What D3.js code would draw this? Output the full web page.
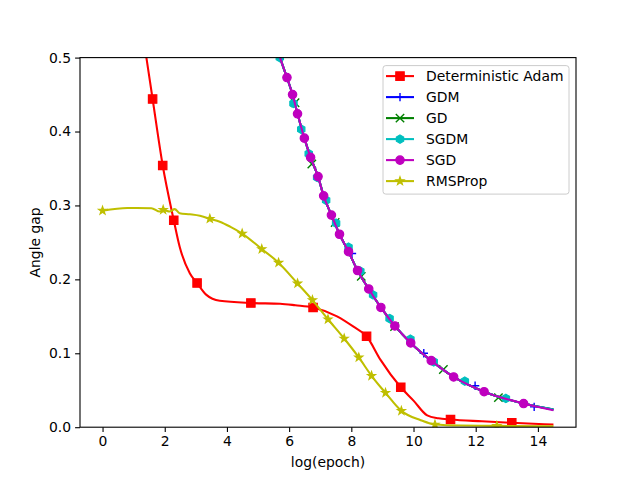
<!DOCTYPE html>
<html>
<head>
<meta charset="utf-8">
<script src="https://cdn.jsdelivr.net/npm/d3@7"></script>
<style>
  body { margin: 0; background: #fff; }
  svg { font-family: "DejaVu Sans", sans-serif; }
</style>
</head>
<body>
<div id="chart"></div>
<script>
// values: [log(epoch), angle gap]
var adamLine = [[1.30,0.530],[1.41,0.500],[1.61,0.444],[1.935,0.354],[2.29,0.280],[2.48,0.244],[2.81,0.208],
  [3.04,0.195],[3.34,0.179],[3.77,0.171],[4.77,0.168],[5.71,0.167],[6.20,0.165],[6.77,0.162],[7.54,0.150],
  [8.07,0.136],[8.49,0.123],[8.94,0.091],[9.59,0.054],[10.0,0.036],[10.44,0.016],[10.8,0.012],[11.19,0.0104],
  [12.2,0.008],[13.16,0.006],[14.5,0.0036]];
var adamMarks = [[1.61,0.444],[1.935,0.354],[2.29,0.280],[3.04,0.195],[4.77,0.168],[6.77,0.162],
  [8.49,0.123],[9.59,0.054],[11.19,0.0104],[13.16,0.006]];

// GDM, GD, SGDM, SGD lie on top of each other
var gdmLine = [[5.60,0.516],[5.71,0.500],[5.93,0.473],[6.11,0.450],[6.27,0.424],[6.49,0.391],[6.69,0.365],
  [6.93,0.339],[7.11,0.313],[7.36,0.287],[7.62,0.261],[7.91,0.2375],[8.20,0.212],[8.56,0.187],[8.95,0.162],
  [9.40,0.137],[9.91,0.114],[10.57,0.090],[11.29,0.068],[12.27,0.048],[13.54,0.032],[14.5,0.024]];
var gdmMarks = [[8.02,0.235],[10.33,0.100],[11.98,0.056],[13.88,0.0275]];
var gdLine = gdmLine;
var gdMarks = [[6.19,0.439],[6.73,0.356],[7.48,0.277],[8.32,0.204],[9.39,0.136],[10.96,0.078],[12.73,0.040]];
var sgdmLine = gdmLine;
var sgdmMarks = [[5.70,0.500],[6.14,0.438],[6.39,0.403],[6.63,0.370],[6.90,0.338],[7.19,0.307],[7.51,0.276],
  [7.91,0.2435],[8.29,0.211],[8.70,0.179],[9.23,0.147],[9.90,0.119],[10.65,0.0885],[11.65,0.0623],[12.97,0.0389]];
var sgdLine = [[5.60,0.516],[5.71,0.500],[5.93,0.473],[6.11,0.450],[6.27,0.424],[6.49,0.391],[6.69,0.365],
  [6.93,0.339],[7.11,0.313],[7.36,0.287],[7.62,0.261],[7.91,0.2375],[8.20,0.212],[8.56,0.187],[8.95,0.162],
  [9.40,0.137],[9.91,0.114],[10.57,0.090],[11.29,0.068],[12.27,0.048],[13.54,0.032],[14.5,0.023]];
var sgdMarks = [[5.93,0.473],[6.11,0.450],[6.27,0.424],[6.49,0.391],[6.69,0.365],[6.93,0.339],[7.11,0.313],
  [7.36,0.287],[7.62,0.261],[7.91,0.2375],[8.20,0.212],[8.56,0.187],[8.95,0.162],[9.40,0.137],[9.91,0.114],
  [10.57,0.090],[11.29,0.068],[12.27,0.048],[13.54,0.032]];

var rmsLine = [[0,0.293],[0.8,0.2965],[1.57,0.2963],[1.84,0.2917],[1.95,0.294],[2.16,0.2917],[2.32,0.295],
  [2.48,0.2895],[2.81,0.288],[3.13,0.286],[3.45,0.282],[3.77,0.278],[4.10,0.2714],[4.49,0.262],[5.12,0.241],
  [5.66,0.2226],[6.27,0.1945],[6.75,0.172],[7.25,0.146],[7.77,0.120],[8.24,0.0944],[8.65,0.0696],[9.10,0.0465],
  [9.61,0.0221],[10.23,0.0095],[10.69,0.0036],[11.5,0.0022],[12.68,0.0018],[14.5,0.0012]];
var rmsMarks = [[0,0.293],[1.95,0.294],[3.45,0.282],[4.49,0.262],[5.12,0.241],[5.66,0.2226],[6.27,0.1945],
  [6.75,0.172],[7.25,0.146],[7.77,0.120],[8.24,0.0944],[8.65,0.0696],[9.10,0.0465],[9.61,0.0221],
  [10.69,0.0036],[12.68,0.0018]];

var seriesNames = ["Deterministic Adam","GDM","GD","SGDM","SGD","RMSProp"];
var xTicks = [0,2,4,6,8,10,12,14];
var yTicks = [0.0,0.1,0.2,0.3,0.4,0.5];

var series = [
  {name: seriesNames[0], line: adamLine, marks: adamMarks, color: "#ff0000", marker: "square"},
  {name: seriesNames[1], line: gdmLine, marks: gdmMarks, color: "#0000ff", marker: "plus"},
  {name: seriesNames[2], line: gdLine, marks: gdMarks, color: "#008000", marker: "x"},
  {name: seriesNames[3], line: sgdmLine, marks: sgdmMarks, color: "#00bfbf", marker: "hexagon"},
  {name: seriesNames[4], line: sgdLine, marks: sgdMarks, color: "#bf00bf", marker: "circle"},
  {name: seriesNames[5], line: rmsLine, marks: rmsMarks, color: "#bfbf00", marker: "star"}
];

var W = 640, H = 480;
var margin = {top: 57.6, right: 64, bottom: 52.8, left: 80},
    width = W - margin.left - margin.right,
    height = H - margin.top - margin.bottom;

var x = d3.scaleLinear().domain([-0.725, 15.225]).range([0, width]);
var y = d3.scaleLinear().domain([0, 0.5]).range([height, 0]);

var svg = d3.select("#chart").append("svg")
    .attr("width", W)
    .attr("height", H)
  .append("g")
    .attr("transform", "translate(" + margin.left + "," + margin.top + ")");

svg.append("defs").append("clipPath").attr("id", "clip")
  .append("rect").attr("width", width).attr("height", height);

var line = d3.line()
    .x(function(d) { return x(d[0]); })
    .y(function(d) { return y(d[1]); })
    .curve(d3.curveMonotoneX);

// marker shape, centred on 0,0
var ms = 4.2;
function markerPath(type) {
  var p = d3.path();
  if (type == "square") {
    p.rect(-ms, -ms, 2 * ms, 2 * ms);
  } else if (type == "circle") {
    p.arc(0, 0, ms, 0, 2 * Math.PI);
  } else if (type == "hexagon") {
    for (var i = 0; i < 6; i++) {
      var a = -Math.PI / 2 + i * Math.PI / 3;
      if (i == 0) p.moveTo(ms * Math.cos(a), ms * Math.sin(a));
      else p.lineTo(ms * Math.cos(a), ms * Math.sin(a));
    }
    p.closePath();
  } else if (type == "star") {
    for (var j = 0; j < 10; j++) {
      var r = j % 2 == 0 ? ms : ms * 0.4;
      var b = -Math.PI / 2 + j * Math.PI / 5;
      if (j == 0) p.moveTo(r * Math.cos(b), r * Math.sin(b));
      else p.lineTo(r * Math.cos(b), r * Math.sin(b));
    }
    p.closePath();
  } else if (type == "plus") {
    p.moveTo(-ms, 0); p.lineTo(ms, 0);
    p.moveTo(0, -ms); p.lineTo(0, ms);
  } else if (type == "x") {
    p.moveTo(-ms, -ms); p.lineTo(ms, ms);
    p.moveTo(-ms, ms); p.lineTo(ms, -ms);
  }
  return p.toString();
}

function drawMarker(g, s) {
  var filled = (s.marker != "plus" && s.marker != "x");
  g.append("path")
    .attr("d", markerPath(s.marker))
    .attr("fill", filled ? s.color : "none")
    .attr("stroke", s.color)
    .attr("stroke-width", filled ? 1.2 : 1.4)
    .attr("stroke-linejoin", "miter");
}

var plot = svg.append("g").attr("clip-path", "url(#clip)");

series.forEach(function(s) {
  plot.append("path")
    .datum(s.line)
    .attr("fill", "none")
    .attr("stroke", s.color)
    .attr("stroke-width", 2.08)
    .attr("d", line);
  plot.selectAll(null)
    .data(s.marks)
    .enter().append("g")
    .attr("transform", function(d) { return "translate(" + x(d[0]) + "," + y(d[1]) + ")"; })
    .each(function() { drawMarker(d3.select(this), s); });
});

// axes
var xAxis = svg.append("g")
    .attr("transform", "translate(0," + height + ")")
    .call(d3.axisBottom(x).tickValues(xTicks).tickSize(4.9).tickPadding(4).tickFormat(d3.format("d")));
var yAxis = svg.append("g")
    .call(d3.axisLeft(y).tickValues(yTicks).tickSize(4.9).tickPadding(4).tickFormat(d3.format(".1f")));

[xAxis, yAxis].forEach(function(a) {
  a.selectAll("text").attr("font-size", "13.9px").attr("fill", "#000")
    .attr("font-family", "DejaVu Sans");
  a.selectAll("line").attr("stroke", "#000").attr("stroke-width", 1.1);
  a.select(".domain").remove();
});

// frame
svg.append("rect")
  .attr("width", width).attr("height", height)
  .attr("fill", "none").attr("stroke", "#000").attr("stroke-width", 1.1);

svg.append("text")
  .attr("x", width / 2).attr("y", height + 40)
  .attr("text-anchor", "middle").attr("font-size", "13.9px")
  .text("log(epoch)");
svg.append("text")
  .attr("transform", "translate(" + (-40) + "," + (height / 2) + ") rotate(-90)")
  .attr("text-anchor", "middle").attr("font-size", "13.9px")
  .text("Angle gap");

// legend
var legX = 303, legY = 8, rowH = 21;
var legend = svg.append("g").attr("transform", "translate(" + legX + "," + legY + ")");
legend.append("rect")
  .attr("width", 186).attr("height", 128.5)
  .attr("rx", 2.8).attr("ry", 2.8)
  .attr("fill", "#fff").attr("fill-opacity", 0.8)
  .attr("stroke", "#cccccc").attr("stroke-width", 1);
series.forEach(function(s, i) {
  var row = legend.append("g").attr("transform", "translate(0," + (10.5 + i * rowH) + ")");
  row.append("line")
    .attr("x1", 3).attr("x2", 31)
    .attr("stroke", s.color).attr("stroke-width", 2.08);
  var m = row.append("g").attr("transform", "translate(17,0)");
  drawMarker(m, s);
  row.append("text")
    .attr("x", 43).attr("dy", "0.36em")
    .attr("font-size", "13.9px")
    .text(s.name);
});
</script>
</body>
</html>
